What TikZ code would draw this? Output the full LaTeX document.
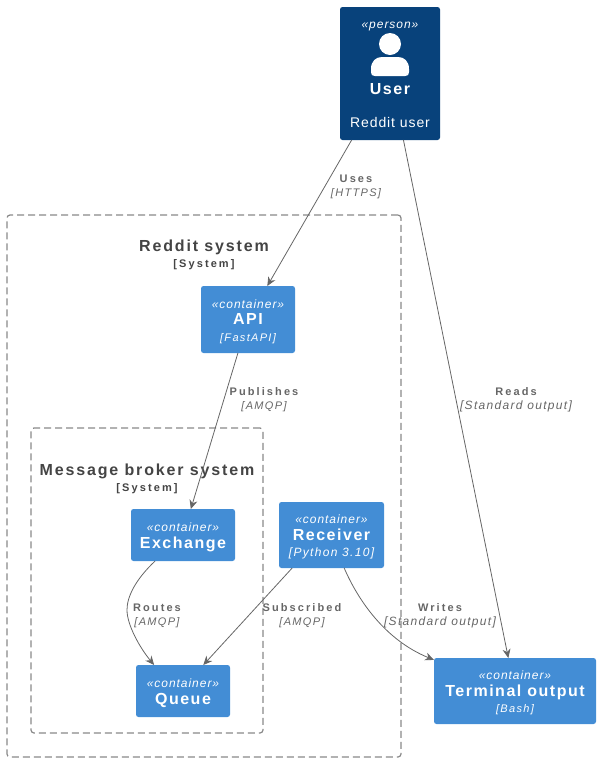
\documentclass[tikz,border=0pt]{standalone}
\usepackage{fontspec}
\usepackage{xcolor}
\usepackage{tikz}
\usetikzlibrary{positioning,arrows.meta}
\setmainfont{Liberation Sans}
\newfontfamily\wide[LetterSpace=9.5]{Liberation Sans}
\newfontfamily\titlewide[LetterSpace=11.5]{Liberation Sans}
\newfontfamily\kindwide[LetterSpace=8]{Liberation Sans}
\newfontfamily\techwide[LetterSpace=11]{Liberation Sans}
\newfontfamily\shortwide[LetterSpace=12]{Liberation Sans}
\newfontfamily\tagwide[LetterSpace=19]{Liberation Sans}
\newfontfamily\descwide[LetterSpace=6.5]{Liberation Sans}
\definecolor{persondark}{HTML}{08427B}
\definecolor{containerblue}{HTML}{438DD5}
\definecolor{edgegray}{HTML}{666666}
\definecolor{titlegray}{HTML}{444444}
\definecolor{dashgray}{HTML}{888888}
\newcommand{\smalltxt}{\fontsize{11}{14}\selectfont}
\newcommand{\tagtxt}[1]{{\tagwide\fontsize{11}{14}\selectfont\bfseries #1}}
\newcommand{\techtxt}[1]{{\techwide\fontsize{12}{14}\selectfont\itshape #1}}
\newcommand{\shorttxt}[1]{{\shortwide\fontsize{11}{14}\selectfont\itshape #1}}
\newcommand{\kindtxt}[1]{{\rule{0pt}{13pt}\kindwide\fontsize{12}{16.5}\selectfont\itshape «#1»}}
\newcommand{\nametxt}[1]{{\wide\fontsize{16}{16.5}\selectfont\bfseries #1}}
\newcommand{\titletxt}[1]{{\titlewide\fontsize{16}{16}\selectfont\bfseries #1}}

\begin{document}
\begin{tikzpicture}[x=1pt, y=-1pt, node distance=10pt and 10pt,
    boxbase/.style={rounded corners=2.5pt, inner sep=0pt, outer sep=0pt, align=center, text=white, font=\fontsize{11}{16.5}\selectfont},
    personbox/.style={boxbase, fill=persondark},
    ctrbox/.style={boxbase, fill=containerblue, minimum width=#1},
    sysbox/.style={draw=dashgray, line width=1.2pt, dash pattern=on 7pt off 4pt, rounded corners=3pt, inner sep=0pt, outer sep=0pt},
    systitle/.style={align=center, inner sep=0pt, text=titlegray, font=\fontsize{11}{16}\selectfont},
    edgelbl/.style={align=center, inner sep=0pt, text=edgegray, font=\smalltxt},
    link/.style={draw=edgegray, line width=0.8pt, -{Stealth[length=9pt, width=8pt]}}]
    \useasboundingbox (0,0) rectangle (601,764);
    % boundaries
    \node[sysbox, minimum width=394pt, minimum height=542pt] (reddit) at (204,486) {};
    \node[sysbox, minimum width=232pt, minimum height=305pt] (broker) at (147,580.5) {};
    \node[systitle] (reddittitle) at (204,255) {\titletxt{Reddit system}\\\tagtxt{[System]}};
    \node[systitle] (brokertitle) at (147,479) {\titletxt{Message broker system}\\\tagtxt{[System]}};
    % boxes
    \node[personbox, minimum width=100pt, minimum height=133pt] (user) at (390,73.5) {};
    \node[ctrbox=94pt, minimum height=67pt, below left=146pt and 45pt of user] (api) {\kindtxt{container}\\\nametxt{API}\\\shorttxt{[FastAPI]}};
    \node[ctrbox=104pt, minimum height=52pt, below=156pt of api, xshift=-65pt] (exchange) {\kindtxt{container}\\\nametxt{Exchange}};
    \node[ctrbox=94pt, minimum height=52pt, below=104pt of exchange] (queue) {\kindtxt{container}\\\nametxt{Queue}};
    \node[ctrbox=105pt, minimum height=66pt, right=44pt of exchange] (receiver) {\kindtxt{container}\\\nametxt{Receiver}\\\techtxt{[Python 3.10]}};
    \node[ctrbox=162pt, minimum height=66pt, below right=90pt and 50pt of receiver] (terminal) {\kindtxt{container}\\\nametxt{Terminal output}\\\shorttxt{[Bash]}};
    % person
    \node[text=white, inner sep=0pt] (userkind) at (390,27) {\kindwide\fontsize{12}{14}\selectfont\itshape «person»};
    \fill[white] (390,44) circle (11);
    \fill[white] (371,72) -- (371,69) .. controls (371,61) and (376,57) .. (382,57) -- (398,57) .. controls (404,57) and (409,61) .. (409,69) -- (409,72) .. controls (409,75) and (408,76) .. (405,76) -- (375,76) .. controls (372,76) and (371,75) .. (371,72) -- cycle;
    \node[text=white, inner sep=0pt] (username) at (390,89) {\nametxt{User}};
    \node[text=white, inner sep=0pt, font=\descwide\fontsize{14}{16}\selectfont] (userdesc) at (390,122) {Reddit user};
    % connectors
    \draw[link] (user) -- (api);
    \draw[link] (user) -- (terminal);
    \draw[link] (api) -- (exchange);
    \draw[link] (exchange.223) .. controls (135,580) and (127,597) .. (127,610) .. controls (127,625) and (140,648) .. (queue.138);
    \draw[link] (receiver.220.6) -- (queue.52);
    \draw[link] (receiver.-69) .. controls (358,600) and (385,640) .. (terminal.159.7);
    % labels
    \node[edgelbl] (useslbl) at (356,187) {\tagtxt{Uses}\\\shorttxt{[HTTPS]}};
    \node[edgelbl] (readslbl) at (516,400) {\tagtxt{Reads}\\\techtxt{[Standard output]}};
    \node[edgelbl] (publisheslbl) at (264,400) {\tagtxt{Publishes}\\\shorttxt{[AMQP]}};
    \node[edgelbl] (routeslbl) at (157,616) {\tagtxt{Routes}\\\shorttxt{[AMQP]}};
    \node[edgelbl] (subscribedlbl) at (302,616) {\tagtxt{Subscribed}\\\shorttxt{[AMQP]}};
    \node[edgelbl] (writeslbl) at (440,616) {\tagtxt{Writes}\\\techtxt{[Standard output]}};
\end{tikzpicture}
\end{document}
